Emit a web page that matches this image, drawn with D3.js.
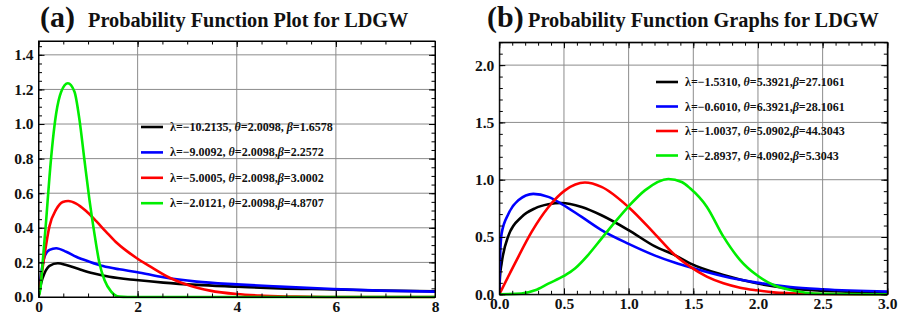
<!DOCTYPE html>
<html>
<head>
<meta charset="utf-8">
<script src="https://cdn.jsdelivr.net/npm/d3@7"></script>
<style>
  body { margin: 0; background: #fff; }
  text { font-family: "Liberation Serif", "Times New Roman", serif; font-weight: bold; fill: #111; }
</style>
</head>
<body>
<script>
// Series colours (same order in both panels)
var colors = ["#000000", "#0000ff", "#ff0000", "#00ee00"];

// ---- panel (a) data ----
var aBlackX = [0, 0.03, 0.055, 0.121, 0.222, 0.39, 0.558, 0.827, 1.1, 1.43, 1.97, 2.52, 3.19, 4.0, 4.87, 5.95, 6.89, 8];
var aBlackY = [0, 0.05, 0.082, 0.137, 0.18, 0.195, 0.185, 0.16, 0.137, 0.117, 0.098, 0.083, 0.07, 0.06, 0.05, 0.044, 0.037, 0.033];
var aBlueX = [0, 0.03, 0.055, 0.121, 0.222, 0.357, 0.558, 0.76, 1.03, 1.3, 1.63, 1.97, 2.52, 3.19, 4.0, 4.87, 5.95, 6.89, 8];
var aBlueY = [0, 0.08, 0.137, 0.233, 0.272, 0.282, 0.262, 0.233, 0.204, 0.179, 0.16, 0.145, 0.114, 0.089, 0.073, 0.06, 0.046, 0.037, 0.031];
var aRedX = [0, 0.088, 0.222, 0.357, 0.49, 0.6, 0.76, 0.96, 1.16, 1.36, 1.56, 1.77, 1.97, 2.25, 2.655, 3.06, 3.46, 4.0, 4.54, 5.2, 6, 8];
var aRedY = [0, 0.179, 0.41, 0.506, 0.549, 0.555, 0.54, 0.497, 0.44, 0.378, 0.318, 0.268, 0.227, 0.177, 0.11, 0.065, 0.037, 0.017, 0.0075, 0.002, 0, 0];
var aGreenX = [0, 0.04, 0.088, 0.155, 0.222, 0.29, 0.357, 0.458, 0.592, 0.726, 0.827, 0.927, 1.028, 1.129, 1.23, 1.331, 1.466, 1.63, 1.8, 8];
var aGreenY = [0, 0.05, 0.214, 0.445, 0.696, 0.908, 1.062, 1.187, 1.236, 1.187, 1.024, 0.792, 0.561, 0.365, 0.195, 0.098, 0.031, 0.002, 0, 0];
var aLabels = [
  "λ=−10.2135, θ=2.0098, β=1.6578",
  "λ=−9.0092, θ=2.0098,β=2.2572",
  "λ=−5.0005, θ=2.0098,β=3.0002",
  "λ=−2.0121, θ=2.0098,β=4.8707"
];
var aXTicks = [0, 2, 4, 6, 8];
var aYTicks = [0, 0.2, 0.4, 0.6, 0.8, 1.0, 1.2, 1.4];

// ---- panel (b) data ----
var bBlackX = [0, 0.005, 0.018, 0.07, 0.173, 0.276, 0.379, 0.482, 0.637, 0.79, 1.0, 1.2, 1.36, 1.475, 1.733, 1.99, 2.25, 2.5, 3.0];
var bBlackY = [0, 0.15, 0.27, 0.51, 0.675, 0.75, 0.785, 0.797, 0.762, 0.69, 0.56, 0.42, 0.34, 0.27, 0.168, 0.096, 0.052, 0.032, 0.014];
var bBlueX = [0, 0.004, 0.018, 0.07, 0.147, 0.263, 0.379, 0.48, 0.637, 0.79, 1.0, 1.2, 1.36, 1.475, 1.733, 1.99, 2.25, 2.5, 3.0];
var bBlueY = [0, 0.25, 0.53, 0.70, 0.82, 0.876, 0.85, 0.79, 0.675, 0.56, 0.44, 0.34, 0.275, 0.235, 0.157, 0.102, 0.064, 0.044, 0.023];
var bRedX = [0, 0.121, 0.25, 0.379, 0.508, 0.662, 0.79, 1.0, 1.2, 1.36, 1.475, 1.604, 1.733, 1.862, 1.99, 2.12, 2.25, 2.5, 3.0];
var bRedY = [0, 0.27, 0.545, 0.76, 0.907, 0.975, 0.937, 0.76, 0.53, 0.34, 0.241, 0.154, 0.096, 0.058, 0.035, 0.017, 0.009, 0.002, 0];
var bGreenX = [0, 0.17, 0.276, 0.379, 0.5, 0.585, 0.688, 0.79, 0.894, 1.0, 1.126, 1.307, 1.41, 1.475, 1.604, 1.733, 1.862, 1.99, 2.12, 2.25, 2.37, 2.5, 3.0];
var bGreenY = [0, 0.006, 0.035, 0.093, 0.16, 0.225, 0.345, 0.486, 0.63, 0.768, 0.907, 1.006, 0.98, 0.925, 0.765, 0.503, 0.299, 0.168, 0.081, 0.038, 0.014, 0.005, 0];
var bLabels = [
  "λ=−1.5310, θ=5.3921,β=27.1061",
  "λ=−0.6010, θ=6.3921,β=28.1061",
  "λ=−1.0037, θ=5.0902,β=44.3043",
  "λ=−2.8937, θ=4.0902,β=5.3043"
];
var bXTicks = [0, 0.5, 1.0, 1.5, 2.0, 2.5, 3.0];
var bYTicks = [0, 0.5, 1.0, 1.5, 2.0];

function zip(xs, ys) { return xs.map(function(x, i) { return [x, ys[i]]; }); }

var svg = d3.select("body").append("svg")
    .attr("width", 900)
    .attr("height", 320);

function drawPanel(p) {
  var x = d3.scaleLinear().domain(p.xDomain).range([p.left, p.right]);
  var y = d3.scaleLinear().domain(p.yDomain).range([p.bottom, p.top]);
  var g = svg.append("g");

  // grid
  g.selectAll(".vgrid").data(p.xTicks.slice(1, -1)).enter().append("line")
    .attr("x1", function(d) { return x(d); }).attr("x2", function(d) { return x(d); })
    .attr("y1", p.top).attr("y2", p.bottom)
    .attr("stroke", "#8c8c8c").attr("stroke-width", 1);
  g.selectAll(".hgrid").data(p.yTicks.slice(1)).enter().append("line")
    .attr("y1", function(d) { return y(d); }).attr("y2", function(d) { return y(d); })
    .attr("x1", p.left).attr("x2", p.right)
    .attr("stroke", "#8c8c8c").attr("stroke-width", 1);

  // curves
  var line = d3.line()
    .x(function(d) { return x(d[0]); })
    .y(function(d) { return y(d[1]); })
    .curve(d3.curveMonotoneX);
  var clipId = "clip" + p.name;
  svg.append("clipPath").attr("id", clipId).append("rect")
    .attr("x", p.left).attr("y", p.top).attr("width", p.right - p.left).attr("height", p.bottom - p.top + 2);
  g.append("g").attr("clip-path", "url(#" + clipId + ")")
    .selectAll("path").data(p.series).enter().append("path")
    .attr("d", function(d) { return line(d); })
    .attr("fill", "none")
    .attr("stroke", function(d, i) { return colors[i]; })
    .attr("stroke-width", 2.6)
    .attr("stroke-linejoin", "round");

  // axes with inward ticks
  var minorX = d3.range(p.xDomain[0], p.xDomain[1] + 1e-9, p.xMinor);
  var minorY = d3.range(p.yDomain[0], p.yDomain[1] + 1e-9, p.yMinor);

  g.append("g").attr("transform", "translate(0," + p.bottom + ")")
    .call(d3.axisBottom(x).tickValues(p.xTicks).tickFormat(p.xFormat).tickSizeInner(-6).tickSizeOuter(0).tickPadding(4))
    .call(function(a) { a.selectAll("text").attr("font-size", 15.5).attr("fill", "#111").attr("font-family", null); });
  g.append("g").attr("transform", "translate(0," + p.bottom + ")")
    .call(d3.axisBottom(x).tickValues(minorX).tickFormat("").tickSizeInner(-3.5).tickSizeOuter(0))
    .select(".domain").remove();
  g.append("g").attr("transform", "translate(" + p.left + ",0)")
    .call(d3.axisLeft(y).tickValues(p.yTicks).tickFormat(d3.format(".1f")).tickSizeInner(-6).tickSizeOuter(0).tickPadding(5))
    .call(function(a) { a.selectAll("text").attr("font-size", 15.5).attr("fill", "#111").attr("font-family", null); });
  g.append("g").attr("transform", "translate(" + p.left + ",0)")
    .call(d3.axisLeft(y).tickValues(minorY).tickFormat("").tickSizeInner(-3.5).tickSizeOuter(0))
    .select(".domain").remove();
  // top and right ticks
  g.append("g").attr("transform", "translate(0," + p.top + ")")
    .call(d3.axisTop(x).tickValues(p.xTicks).tickFormat("").tickSizeInner(-6).tickSizeOuter(0));
  g.append("g").attr("transform", "translate(0," + p.top + ")")
    .call(d3.axisTop(x).tickValues(minorX).tickFormat("").tickSizeInner(-3.5).tickSizeOuter(0));
  g.append("g").attr("transform", "translate(" + p.right + ",0)")
    .call(d3.axisRight(y).tickValues(p.yTicks).tickFormat("").tickSizeInner(-6).tickSizeOuter(0));
  g.append("g").attr("transform", "translate(" + p.right + ",0)")
    .call(d3.axisRight(y).tickValues(minorY).tickFormat("").tickSizeInner(-3.5).tickSizeOuter(0));

  g.append("rect")
    .attr("x", p.left).attr("y", p.top)
    .attr("width", p.right - p.left).attr("height", p.bottom - p.top)
    .attr("fill", "none").attr("stroke", "#000").attr("stroke-width", 1);

  // legend
  p.labels.forEach(function(lab, i) {
    var ly = p.legY + i * p.legStep;
    g.append("line")
      .attr("x1", p.legX).attr("x2", p.legX + 22)
      .attr("y1", ly).attr("y2", ly)
      .attr("stroke", colors[i]).attr("stroke-width", 2.6);
    var t = g.append("text").attr("x", p.legX + 29).attr("y", ly + 4).attr("font-size", 12);
    lab.split(/([θβ])/).forEach(function(part) {
      if (part === "") return;
      t.append("tspan").text(part)
        .attr("font-style", (part === "θ" || part === "β") ? "italic" : null);
    });
  });

  // title
  svg.append("text").attr("x", p.tagX).attr("y", 27).attr("font-size", 30).text(p.tag);
  svg.append("text").attr("x", p.titleX).attr("y", 27).attr("font-size", 20.3).text(p.title);
}

drawPanel({
  name: "a", tag: "(a)", title: "Probability Function Plot for LDGW", tagX: 40, titleX: 88,
  left: 38.5, right: 435, top: 41, bottom: 297,
  xDomain: [0, 8], yDomain: [0, 1.48], xMinor: 0.5, yMinor: 0.05,
  xTicks: aXTicks, yTicks: aYTicks, xFormat: d3.format("d"),
  series: [zip(aBlackX, aBlackY), zip(aBlueX, aBlueY), zip(aRedX, aRedY), zip(aGreenX, aGreenY)],
  labels: aLabels, legX: 141, legY: 127, legStep: 25.4
});

drawPanel({
  name: "b", tag: "(b)", title: "Probability Function Graphs for LDGW", tagX: 487, titleX: 528,
  left: 499.3, right: 887.3, top: 42.2, bottom: 294.3,
  xDomain: [0, 3], yDomain: [0, 2.2], xMinor: 0.1, yMinor: 0.1,
  xTicks: bXTicks, yTicks: bYTicks, xFormat: d3.format(".1f"),
  series: [zip(bBlackX, bBlackY), zip(bBlueX, bBlueY), zip(bRedX, bRedY), zip(bGreenX, bGreenY)],
  labels: bLabels, legX: 656, legY: 82, legStep: 24.5
});
</script>
</body>
</html>
